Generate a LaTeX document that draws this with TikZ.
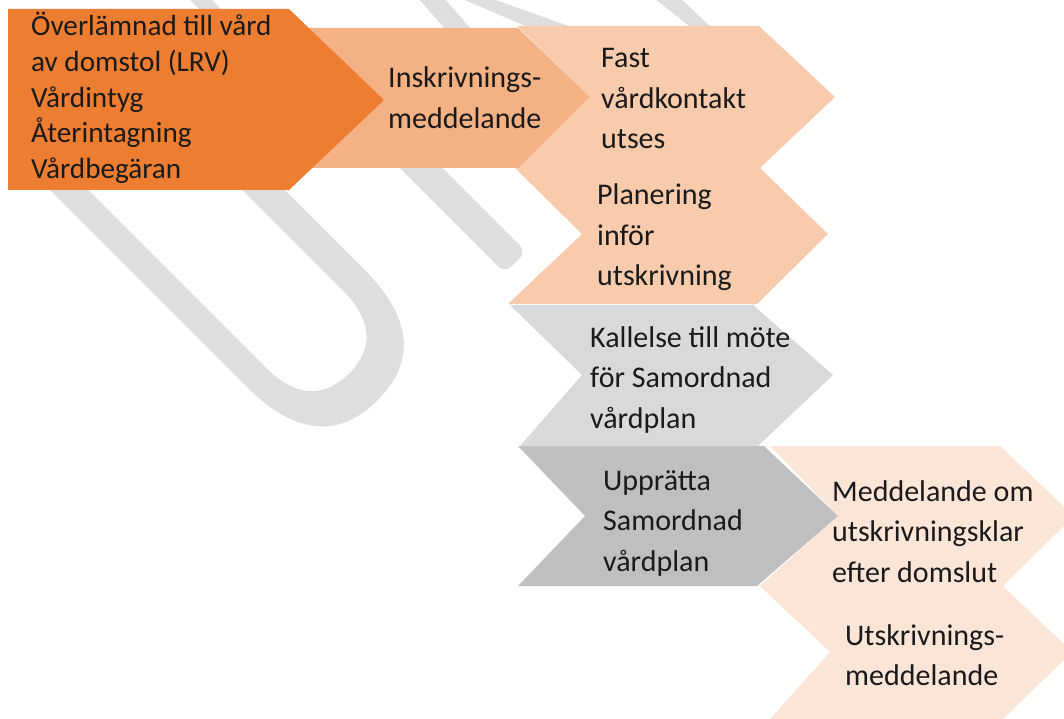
\documentclass[tikz,border=0pt]{standalone}
\usepackage{fontspec}
\setmainfont{Carlito}
\definecolor{cA}{HTML}{ED7D31}
\definecolor{cB}{HTML}{F4B183}
\definecolor{cC}{HTML}{F8CBAD}
\definecolor{cD}{HTML}{D9D9D9}
\definecolor{cE}{HTML}{BFBFBF}
\definecolor{cF}{HTML}{FBE5D6}
\definecolor{cStrip}{HTML}{D5DAE1}
\definecolor{wmgrey}{HTML}{DEDEDE}
\definecolor{txt}{HTML}{1A1A1A}
\newcommand{\ml}[1]{\vtop{\halign{##\hfil\cr#1\crcr}}}
\begin{document}
\begin{tikzpicture}[x=1pt,y=-1pt,
  wm/.style={fill=wmgrey,draw=none},
  chev/.style={draw=none},
  lbl/.style={anchor=base west,inner sep=0pt,text=txt,font=\fontsize{30}{40.5}\selectfont},
  lbltight/.style={lbl,font=\fontsize{29.2}{35.6}\selectfont}]
\useasboundingbox (0,0) rectangle (1064,719);
\clip (0,0) rectangle (1064,719);
% watermark
\begin{scope}[x={(0.70711pt,0.70711pt)},y={(0.70711pt,-0.70711pt)}]
  \fill[wm] (-99,130) -- (-99,448) .. controls (-99,523) and (-65,550) .. (-16,550)
     .. controls (33,550) and (67,523) .. (67,448) -- (67,130) -- (37,130) -- (37,448)
     .. controls (37,493) and (15,511) .. (-17,511) .. controls (-50,511) and (-72,493) .. (-72,448)
     -- (-72,130) -- cycle;
  \fill[wm,rounded corners=9pt] (164,250) -- (164,550) -- (194,550) -- (194,250) -- cycle;
\end{scope}
\fill[wm] (188,-2) -- (210,-2) -- (224,12) -- (202,12) -- cycle;
\fill[wm] (418,-2) -- (444,-2) -- (472,30) -- (446,30) -- cycle;
\fill[wm] (460,-2) -- (490,-2) -- (580,30) -- (535,30) -- cycle;
\fill[wm] (654,-2) -- (680,-2) -- (714,30) -- (694,30) -- cycle;
% chevrons (last first)
\fill[cF,chev] (760,586) -- (1003,586) -- (1072,652) -- (1003,719) -- (770,719) -- (830,652) -- cycle;
\fill[cF,chev] (770,446) -- (1000,446) -- (1074,516) -- (1003,586) -- (760,586) -- (838,516) -- cycle;
\fill[cE,chev] (518,446) -- (764,446) -- (838,516) -- (757,586) -- (518,586) -- (585,516) -- cycle;
\fill[cD,chev] (510,305) -- (753,305) -- (833,375) -- (758,446) -- (520,446) -- (582,375) -- cycle;
\fill[cStrip,chev] (510,305) -- (753,305) -- (758,310) -- (515,310) -- cycle;
\fill[cC,chev] (515,168) -- (760,168) -- (828,234) -- (757,304) -- (508,304) -- (582,234) -- cycle;
\fill[cC,chev] (517,26) -- (759,26) -- (835,97) -- (760,168) -- (517,168) -- (590,97) -- cycle;
\fill[cB,chev] (300,28) -- (518,28) -- (590,97) -- (518,168) -- (300,168) -- (372,97) -- cycle;
\fill[cA,chev] (8,9) -- (289,9) -- (384,100) -- (289,190) -- (8,190) -- cycle;
% texts
\node[lbltight] (t1) at (31,36) {\ml{Överlämnad till vård\cr av domstol (LRV)\cr Vårdintyg\cr Återintagning\cr Vårdbegäran}};
\node[lbl] (t2) at (388,88) {\ml{Inskrivnings-\cr meddelande}};
\node[lbl] (t3) at (601,68) {\ml{Fast\cr vårdkontakt\cr utses}};
\node[lbl] (t4) at (597,205) {\ml{Planering\cr inför\cr utskrivning}};
\node[lbl] (t5) at (590,347) {\ml{Kallelse till möte\cr för Samordnad\cr vårdplan}};
\node[lbl] (t6) at (603,490) {\ml{Upprätta\cr Samordnad\cr vårdplan}};
\node[lbl] (t7) at (832,501) {\ml{Meddelande om\cr utskrivningsklar\cr efter domslut}};
\node[lbl] (t8) at (845,645) {\ml{Utskrivnings-\cr meddelande}};
\end{tikzpicture}
\end{document}
